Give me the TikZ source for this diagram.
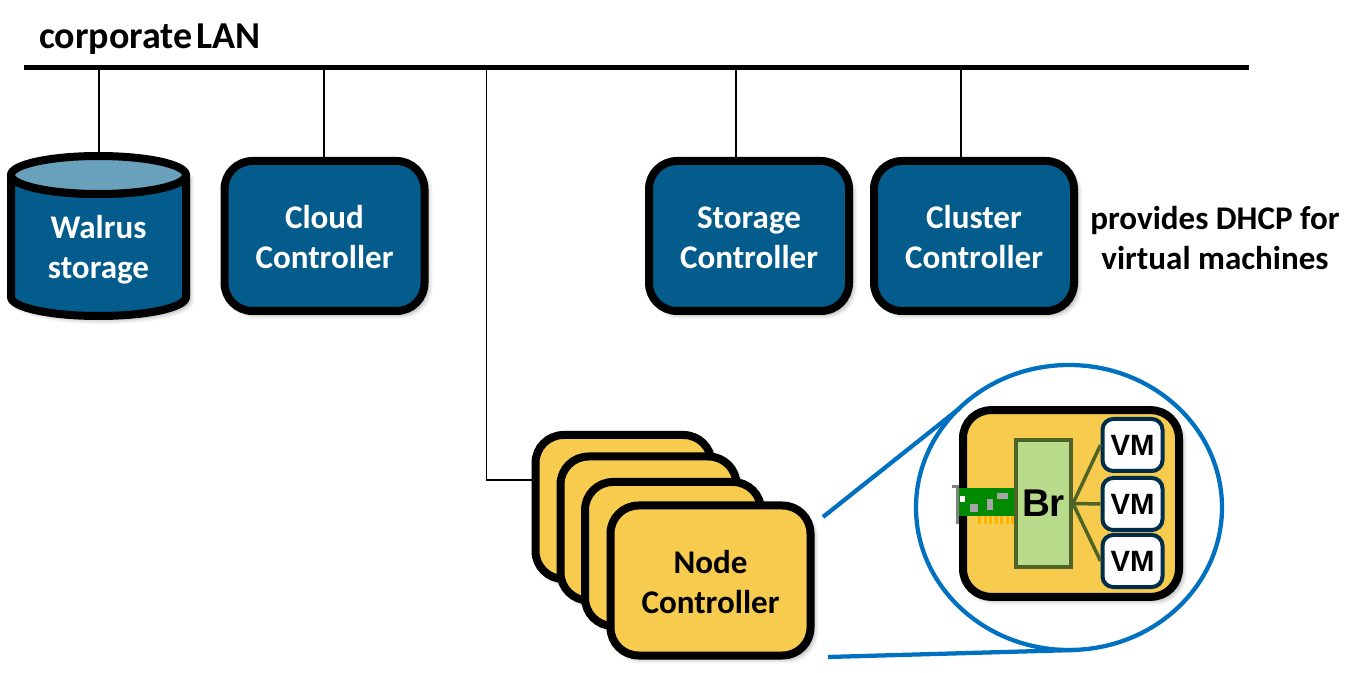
\documentclass[tikz,border=0pt]{standalone}
\usepackage{fontspec}
\setmainfont{Carlito}
\newfontfamily\arialfont{Liberation Sans}
\usetikzlibrary{shadows.blur}
\definecolor{blueFill}{HTML}{045C8C}
\definecolor{blueTop}{HTML}{69A0BC}
\definecolor{nodeFill}{HTML}{F6CB4E}
\definecolor{ringBlue}{HTML}{0070C0}
\definecolor{brFill}{HTML}{B9DB8C}
\definecolor{brLine}{HTML}{4F6228}
\definecolor{vmLine}{HTML}{002E4A}
\definecolor{nicGreen}{HTML}{008A00}
\definecolor{nicGold}{HTML}{FFB400}
\definecolor{nicGray}{HTML}{A6A6A6}
\definecolor{bracketGray}{HTML}{808080}
\newcommand{\dropa}{\rule{0pt}{19pt}}
\newcommand{\dropb}{\rule{0pt}{20pt}}
\tikzset{
  softshadow/.style={blur shadow={shadow xshift=3pt,shadow yshift=-3pt,shadow blur steps=6,shadow blur radius=3.5pt,shadow opacity=35}},
  boxbase/.style={rectangle,rounded corners=21pt,draw=black,line width=6pt,minimum width=150pt,minimum height=112.5pt,align=center,font=\fontsize{24.8}{30}\selectfont\bfseries,softshadow,inner sep=0pt},
  bluebox/.style={boxbase,fill=blueFill,text=white},
  yellowbox/.style={boxbase,fill=nodeFill,text=black},
  rearbox/.style={yellowbox,minimum width=132pt,minimum height=108pt},
  branch/.style={draw=black,line width=1.1pt},
  ringline/.style={draw=ringBlue,line width=3.2pt},
  brlink/.style={draw=brLine,line width=2.6pt},
  vmbox/.style={rectangle,rounded corners=8pt,draw=vmLine,line width=3pt,fill=white,minimum width=45pt,minimum height=39pt,inner sep=0pt,font=\arialfont\fontsize{22}{24}\selectfont\bfseries},
  plainlabel/.style={align=center,inner sep=0pt,font=\fontsize{24.8}{30}\selectfont\bfseries}
}
\begin{document}
\begin{tikzpicture}[x=0.75pt,y=-0.75pt]
\useasboundingbox (0,0) rectangle (1361,673);
% LAN
\node[fill=black,inner sep=0pt,minimum width=918.75pt,minimum height=3.6pt] (bus) at (636.5,67.5) {};
\node[anchor=west,inner sep=0pt,font=\fontsize{28.5}{30}\selectfont\bfseries] (lan) at (39,39) {corporate\hspace{-0.12em} LAN};
% Branch lines first
\coordinate (walrustop) at (99,156);
\draw[branch] (walrustop) -- (walrustop |- bus);
% Walrus
\draw[draw=black,line width=6pt,fill=blueFill,line join=round,softshadow]
  (11,175) -- (11,297) arc[start angle=180,end angle=0,x radius=87.5,y radius=19] -- (186,175)
  arc[start angle=0,end angle=180,x radius=87.5,y radius=19] -- cycle;
\draw[draw=black,line width=6pt,fill=blueTop] (98.5,175) ellipse[x radius=87.5,y radius=19];
\node[align=center,inner sep=0pt,text=white,font=\fontsize{24.8}{30}\selectfont\bfseries] (walrus) at (98.5,250) {Walrus\\storage};
% Controllers
\node[bluebox] (cloud) at (324.5,236) {\dropa Cloud\\Controller};
\node[bluebox] (storage) at (749,236) {\dropa Storage\\Controller};
\node[bluebox] (cluster) at (974,236) {\dropa Cluster\\Controller};
\coordinate (cloudtap) at (324,157);
\coordinate (storagetap) at (736,157);
\coordinate (clustertap) at (961,157);
\draw[branch] (cloudtap) -- (cloudtap |- bus);
\draw[branch] (storagetap) -- (storagetap |- bus);
\draw[branch] (clustertap) -- (clustertap |- bus);
\node[plainlabel] (dhcp) at (1215,238.5) {provides DHCP for\\virtual machines};
% Node controllers
\node[rearbox] (n1) at (623.5,507) {};
\node[rearbox] (n2) at (648.5,528.5) {};
\node[rearbox] (n3) at (673,554) {};
\node[yellowbox] (n4) at (710.5,580.5) {\dropb Node\\Controller};
\coordinate (lanturn) at (486.5,480);
\draw[branch] (lanturn |- bus) -- (lanturn) -- (n1.west |- lanturn);
% Zoom ring
\draw[ringline] (1069,507.5) ellipse[x radius=153,y radius=142.5];
\coordinate (ringa) at (960,408);
\coordinate (ringb) at (1075,650);
\coordinate (ca) at (823,517);
\coordinate (cb) at (828,657);
\draw[ringline] (ca) -- (ringa);
\draw[ringline] (cb) -- (ringb);
% Inner host
\node[boxbase,fill=nodeFill,minimum width=162pt,minimum height=140pt] (host) at (1071,503.5) {};
\node[rectangle,draw=brLine,line width=3pt,fill=brFill,minimum width=41.25pt,minimum height=95.25pt,inner sep=0pt,font=\arialfont\fontsize{29}{30}\selectfont\bfseries] (br) at (1043.5,503.5) {Br};
\node[vmbox] (vm1) at (1132.5,445) {VM};
\node[vmbox] (vm2) at (1132.5,504) {VM};
\node[vmbox] (vm3) at (1132.5,561) {VM};
\draw[brlink] (br.east) -- (vm1.west);
\draw[brlink] (br.east) -- (vm2.west);
\draw[brlink] (br.east) -- (vm3.west);
% NIC
\fill[nicGreen] (959,488) rectangle (1014,516);
\fill[bracketGray] (956,485) rectangle (959,524);
\fill[bracketGray] (952,485) rectangle (959,488);
\fill[white] (960,496) rectangle (965,502);
\fill[nicGray] (970,504) rectangle (978,512);
\fill[nicGray] (987,499) rectangle (993,510);
\fill[nicGray] (997,493) rectangle (1008,499);
\foreach \cx in {978,983.5,989,994.5,1000,1005.5,1011}
  \fill[nicGold] (\cx,516) rectangle ++(3.2,8);
\end{tikzpicture}
\end{document}
